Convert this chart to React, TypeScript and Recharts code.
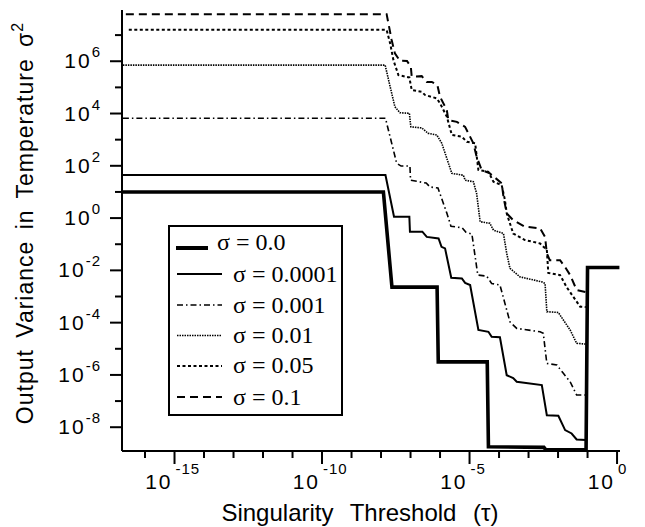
import React from "react";
import { LineChart, Line, XAxis, YAxis, Legend, Label } from "recharts";

const tauS0 = [-16.75, -7.92, -7.63, -6.1, -6.06, -4.4, -4.36, -2.48, -2.42, -1.05, -1.0, 0.08];
const varS0 = [1.0, 1.0, -2.64, -2.64, -5.5, -5.5, -8.75, -8.77, -8.86, -8.86, -1.89, -1.89];

const tauS1 = [-16.75, -7.85, -7.56, -7.04, -7.02, -6.6, -6.45, -6.05, -5.95, -5.83, -5.62, -5.26, -5.15, -4.98, -4.7, -4.36, -4.25, -3.97, -3.74, -3.52, -3.4, -2.55, -2.38, -1.99, -1.76, -1.54, -1.37, -1.06];
const varS1 = [1.65, 1.65, 0.05, 0.05, -0.52, -0.52, -0.72, -0.78, -1.1, -1.16, -2.28, -2.31, -2.48, -2.56, -4.28, -4.35, -4.54, -4.56, -6.01, -6.12, -6.26, -6.39, -7.54, -7.56, -8.11, -8.24, -8.47, -8.49];

const tauS2 = [-16.75, -7.85, -7.47, -7.32, -7.02, -7.0, -6.47, -6.34, -6.07, -5.77, -5.63, -5.25, -5.12, -4.92, -4.72, -4.42, -4.25, -3.97, -3.63, -3.4, -2.61, -2.5, -2.38, -2.04, -1.82, -1.59, -1.37, -1.06];
const varS2 = [3.82, 3.82, 2.1, 1.99, 1.99, 1.45, 1.34, 1.19, 1.15, 0.19, -0.31, -0.37, -0.54, -0.61, -2.18, -2.22, -2.5, -2.56, -3.97, -4.22, -4.35, -4.41, -5.56, -5.62, -5.94, -6.26, -6.77, -6.77];

const tauS3 = [-16.75, -7.86, -7.69, -7.53, -7.36, -7.04, -6.99, -6.62, -6.4, -6.11, -5.94, -5.6, -5.21, -5.15, -4.87, -4.76, -4.64, -4.31, -4.19, -3.85, -3.74, -3.63, -3.29, -2.55, -2.44, -2.38, -1.99, -1.82, -1.59, -1.37, -1.06];
const varS3 = [5.85, 5.85, 5.02, 4.26, 4.03, 4.01, 3.49, 3.45, 3.24, 3.18, 2.86, 1.71, 1.64, 1.45, 1.39, 0.94, -0.14, -0.2, -0.46, -0.59, -1.35, -1.92, -2.25, -2.44, -2.5, -3.58, -3.61, -3.9, -4.28, -4.79, -4.82];

const tauS4 = [-16.55, -7.81, -7.69, -7.58, -7.41, -7.04, -6.96, -6.62, -6.51, -6.11, -6.0, -5.77, -5.6, -5.26, -5.09, -4.81, -4.7, -4.36, -4.19, -3.91, -3.8, -3.74, -3.52, -3.12, -2.61, -2.38, -2.33, -1.93, -1.71, -1.25, -1.06];
const varS4 = [7.2, 7.2, 6.68, 6.04, 5.47, 5.38, 4.9, 4.83, 4.71, 4.58, 4.39, 3.88, 3.18, 3.11, 2.92, 2.86, 1.84, 1.77, 1.39, 1.26, 0.69, 0.18, -0.59, -0.84, -0.97, -1.22, -2.1, -2.18, -2.64, -3.39, -3.4];

const tauS5 = [-16.65, -7.81, -7.64, -7.53, -7.36, -7.12, -6.99, -6.96, -6.62, -6.45, -6.28, -6.09, -6.0, -5.77, -5.72, -5.43, -5.15, -4.87, -4.76, -4.59, -4.31, -3.91, -3.85, -3.74, -3.52, -3.12, -2.61, -2.44, -2.38, -2.28, -1.93, -1.73, -1.59, -1.37, -1.06];
const varS5 = [7.8, 7.8, 6.81, 6.3, 6.02, 6.01, 5.79, 5.41, 5.43, 5.21, 5.21, 5.09, 4.64, 4.13, 3.75, 3.68, 3.49, 2.86, 2.35, 1.84, 1.71, 1.33, 0.81, 0.18, -0.08, -0.33, -0.39, -0.72, -1.35, -1.61, -1.61, -1.93, -2.18, -2.75, -2.83];

const sigmaLabels = ["0.0", "0.0001", "0.001", "0.01", "0.05", "0.1"];
const xTickExps = [-16, -15, -14, -13, -12, -11, -10, -9, -8, -7, -6, -5, -4, -3, -2, -1, 0];
const yTickExps = [-8, -7, -6, -5, -4, -3, -2, -1, 0, 1, 2, 3, 4, 5, 6, 7];

const toRows = (t: number[], v: number[]) =>
  t.map((e, i) => ({ tau: Math.pow(10, e), v: Math.pow(10, v[i]) }));

const series = [
  { key: "s5", data: toRows(tauS5, varS5), width: 2, dash: "8 5" },
  { key: "s4", data: toRows(tauS4, varS4), width: 2, dash: "3 2.5" },
  { key: "s3", data: toRows(tauS3, varS3), width: 1.6, dash: "1.5 1" },
  { key: "s2", data: toRows(tauS2, varS2), width: 1.6, dash: "6 3 1.5 3" },
  { key: "s1", data: toRows(tauS1, varS1), width: 2, dash: undefined },
  { key: "s0", data: toRows(tauS0, varS0), width: 3.6, dash: undefined },
];

const SANS = "'Liberation Sans', Arial, Helvetica, sans-serif";
const SERIF = "'Liberation Serif', 'Times New Roman', serif";

function XTick(props: any) {
  const { x, y, payload } = props;
  const e = Math.round(Math.log10(payload.value));
  const major = e % 5 === 0;
  return (
    <g>
      <line x1={x} x2={x} y1={y} y2={y + (major ? 13 : 7)} stroke="#000" strokeWidth={2} />
      {major && (
        <g fontFamily={SANS} fill="#000">
          <text x={x - 2} y={y + 38} textAnchor="end" fontSize={21} letterSpacing={2}>
            10
          </text>
          <text x={x + 1} y={y + 23} fontSize={15} letterSpacing={1}>
            {e === 0 ? "0" : `-${Math.abs(e)}`}
          </text>
        </g>
      )}
    </g>
  );
}

function YTick(props: any) {
  const { x, y, payload } = props;
  const e = Math.round(Math.log10(payload.value));
  const major = e % 2 === 0;
  return (
    <g>
      <line x1={x - (major ? 12 : 7)} x2={x} y1={y} y2={y} stroke="#000" strokeWidth={2} />
      {major && (
        <text x={x - 21} y={y + 7} textAnchor="end" fontFamily={SANS} fontSize={21} letterSpacing={2} fill="#000">
          10
          <tspan dy={-11} fontSize={15} letterSpacing={1}>
            {e < 0 ? `-${Math.abs(e)}` : `${e}`}
          </tspan>
        </text>
      )}
    </g>
  );
}

function LegendBox() {
  const rows = [
    { y: 23, text: 25, x1: 8, x2: 40, tx: 49, width: 4, dash: undefined },
    { y: 49, text: 57, x1: 9, x2: 54, tx: 65, width: 2, dash: undefined },
    { y: 80, text: 88, x1: 9, x2: 54, tx: 65, width: 1.6, dash: "6 3 1.5 3" },
    { y: 110.5, text: 118, x1: 9, x2: 54, tx: 65, width: 1.6, dash: "1.5 1" },
    { y: 141, text: 148, x1: 9, x2: 54, tx: 65, width: 2, dash: "3 2.5" },
    { y: 172, text: 180, x1: 9, x2: 54, tx: 65, width: 2, dash: "8 5" },
  ];
  return (
    <svg width={175} height={191} style={{ display: "block" }}>
      <rect x={1} y={1} width={173} height={189} fill="#fff" stroke="#000" strokeWidth={2} />
      {rows.map((r, i) => (
        <g key={i}>
          <line x1={r.x1} x2={r.x2} y1={r.y} y2={r.y} stroke="#000" strokeWidth={r.width} strokeDasharray={r.dash} />
          <text x={r.tx} y={r.text} fontFamily={SERIF} fontSize={24} fill="#000">
            σ = {sigmaLabels[i]}
          </text>
        </g>
      ))}
    </svg>
  );
}

export default function App() {
  return (
    <div style={{ width: 645, height: 527, background: "#fff" }}>
      <style>{"body{margin:0;background:#fff}"}</style>
      <LineChart width={645} height={527} margin={{ top: 10, right: 25, bottom: 0, left: 0 }}>
        <XAxis
          dataKey="tau"
          type="number"
          scale="log"
          domain={[Math.pow(10, -16.78), Math.pow(10, 0.1)]}
          allowDataOverflow
          ticks={xTickExps.map((e) => Math.pow(10, e))}
          interval={0}
          tick={<XTick />}
          tickLine={false}
          tickSize={0}
          tickMargin={0}
          height={76}
          axisLine={{ stroke: "#000", strokeWidth: 2 }}
        >
          <Label
            content={() => (
              <text x={360} y={521} textAnchor="middle" fontFamily={SANS} fontSize={24} wordSpacing={10} fill="#000">
                Singularity Threshold (τ)
              </text>
            )}
          />
        </XAxis>
        <YAxis
          type="number"
          scale="log"
          domain={[Math.pow(10, -8.91), Math.pow(10, 7.96)]}
          allowDataOverflow
          ticks={yTickExps.map((e) => Math.pow(10, e))}
          interval={0}
          tick={<YTick />}
          tickLine={false}
          tickSize={0}
          tickMargin={0}
          width={122}
          axisLine={{ stroke: "#000", strokeWidth: 2 }}
        >
          <Label
            content={() => (
              <text
                transform="rotate(-90)"
                x={-223}
                y={33}
                textAnchor="middle"
                fontFamily={SANS}
                fontSize={23}
                wordSpacing={4}
                letterSpacing={1}
                fill="#000"
              >
                Output Variance in Temperature σ
                <tspan dy={-10} fontSize={16}>
                  2
                </tspan>
              </text>
            )}
          />
        </YAxis>
        <Legend
          layout="horizontal"
          verticalAlign="middle"
          align="center"
          content={() => <LegendBox />}
          wrapperStyle={{ left: 168, top: 225, width: 175, height: 191 }}
        />
        {series.map((s) => (
          <Line
            key={s.key}
            data={s.data}
            dataKey="v"
            type="linear"
            stroke="#000"
            strokeWidth={s.width}
            strokeDasharray={s.dash}
            dot={false}
            activeDot={false}
            isAnimationActive={false}
            legendType="none"
          />
        ))}
      </LineChart>
    </div>
  );
}
